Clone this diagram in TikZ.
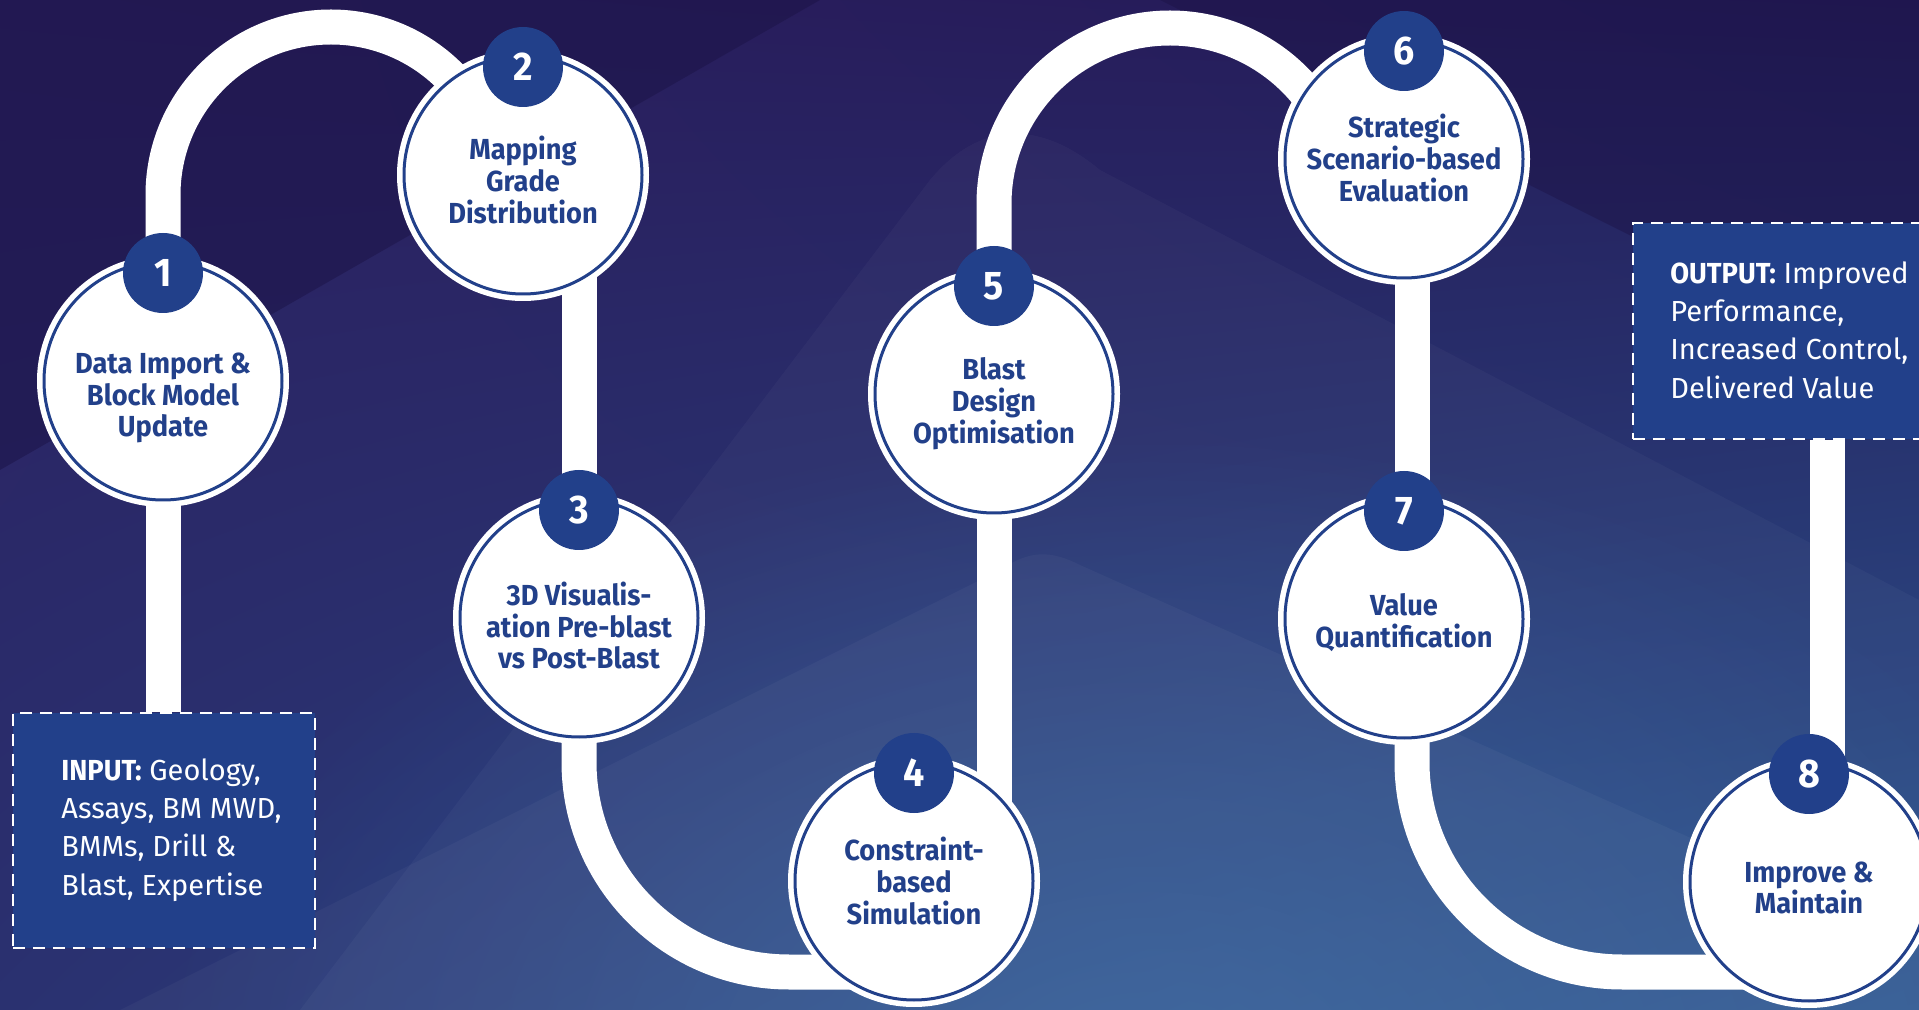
\documentclass[tikz,border=0pt]{standalone}
\usepackage{fontspec}
\setmainfont{Fira Sans}[BoldFeatures={FakeStretch=0.94}]
\usetikzlibrary{fadings,shadings}

\definecolor{navy}{HTML}{22408A}
\definecolor{bgUL}{HTML}{2B1F5F}
\definecolor{bgUR}{HTML}{231A57}
\definecolor{bgLL}{HTML}{2A3170}
\definecolor{bgLR}{HTML}{2D5690}
\definecolor{glow}{HTML}{3567A1}
\definecolor{shadow}{HTML}{1B1346}

\pgfdeclarelayer{background}
\pgfdeclarelayer{tracks}
\pgfsetlayers{background,tracks,main}

\tikzfading[name=glowfade, inner color=transparent!0, outer color=transparent!100]

\tikzset{
  stepdisk/.style={circle, fill=white, draw=navy, line width=1.5pt,
    minimum size=119pt, inner sep=0pt,
    preaction={draw=white, line width=7pt}},
  steptext/.style={text=navy, align=center, inner sep=0pt,
    font=\bfseries\fontsize{14.5}{15.9}\selectfont},
  badge/.style={circle, fill=navy, minimum size=40pt, inner sep=0pt,
    text=white, font=\bfseries\fontsize{20}{20}\selectfont},
  track/.style={draw=white, line width=17.5pt},
  iobox/.style={draw=white, fill=navy, line width=1.25pt,
    dash pattern=on 6pt off 4pt, inner sep=0pt},
  iotext/.style={text=white, align=left, anchor=west, inner sep=0pt,
    font=\fontsize{14.5}{19.2}\selectfont},
}

\begin{document}
\begin{tikzpicture}[x=0.5pt, y=-0.5pt]
\useasboundingbox (0,0) rectangle (1919,1010);
\clip (0,0) rectangle (1919,1010);

% ---------- backdrop ----------
\begin{pgfonlayer}{background}
  \shade[upper left=bgUL, upper right=bgUR, lower left=bgLL, lower right=bgLR]
    (0,0) rectangle (1919,1010);
  \fill[glow, path fading=glowfade, fill opacity=0.7]
    (1150,1080) ellipse (1000 and 650);
  % diagonal facets
  \fill[shadow, fill opacity=0.5] (0,0) -- (820,0) -- (0,470) -- cycle;
  \fill[shadow, fill opacity=0.45] (1160,0) -- (1919,0) -- (1919,380) -- cycle;
  \fill[white, fill opacity=0.03] (300,1010) -- (930,180)
    .. controls (980,120) and (1040,120) .. (1100,170) -- (1919,600) -- (1919,1010) -- cycle;
  \fill[white, fill opacity=0.035] (120,1010) -- (1000,570)
    .. controls (1030,550) and (1050,550) .. (1080,565) -- (1919,940) -- (1919,1010) -- cycle;
\end{pgfonlayer}

% ---------- input / output ----------
\node[iobox, minimum width=151pt, minimum height=117.5pt] (inbox) at (164,830.5) {};
\node[iotext] (intext) at (61,830) {\textbf{INPUT:} Geology,\\Assays, BM MWD,\\BMMs, Drill \&\\Blast, Expertise};

\node[iobox, minimum width=163.5pt, minimum height=108pt] (outbox) at (1796.5,331) {};
\node[iotext] (outtext) at (1670,330) {\textbf{OUTPUT:} Improved\\Performance,\\Increased Control,\\Delivered Value};

% ---------- steps ----------
\node[stepdisk] (c1) at (163,381) {};
\node[stepdisk] (c2) at (523,175) {};
\node[stepdisk] (c3) at (579,618) {};
\node[stepdisk] (c4) at (914,881) {};
\node[stepdisk] (c5) at (994,394) {};
\node[stepdisk] (c6) at (1404,159) {};
\node[stepdisk] (c7) at (1404,619) {};
\node[stepdisk] (c8) at (1809,882) {};

\foreach \n in {1,...,8}
  \node[badge] (b\n) at ([yshift=54pt]c\n.center) {\n};

\node[steptext] (t1) at ([yshift=-8.5pt]c1.center) {Data Import \&\\Block Model\\Update};
\node[steptext] (t2) at ([yshift=-2.5pt]c2.center) {Mapping\\Grade\\Distribution};
\node[steptext] (t3) at ([yshift=-3.75pt]c3.center) {3D Visualis-\\ation Pre-blast\\vs Post-Blast};
\node[steptext] (t4) at (c4.center) {Constraint-\\based\\Simulation};
\node[steptext] (t5) at ([yshift=-5pt]c5.center) {Blast\\Design\\Optimisation};
\node[steptext] (t6) at ([yshift=0.5pt]c6.center) {Strategic\\Scenario-based\\Evaluation};
\node[steptext] (t7) at ([yshift=-2pt]c7.center) {Value\\Quantification};
\node[steptext] (t8) at ([yshift=-3pt]c8.center) {Improve \&\\Maintain};

\coordinate (c6r) at ([xshift=4pt]c6.center);
\coordinate (c7r) at ([xshift=4pt]c7.center);
\coordinate (c8r) at ([xshift=9pt]c8.center);

% ---------- track ----------
\begin{pgfonlayer}{tracks}
  \draw[track] (c1.center |- inbox.north) -- (c1.center);
  \draw[track] (c1.center) -- (163,195) arc[start angle=180, end angle=340, radius=168];
  \draw[track] (c3.center |- c2.center) -- (c3.center);
  \draw[track] (c3.center) -- (579,762) arc[start angle=180, end angle=90, radius=210] -- ++(140,0);
  \draw[track] (c5.center |- c4.center) -- (c5.center);
  \draw[track] (c5.center) -- (994,204) arc[start angle=180, end angle=340, radius=176];
  \draw[track] (c6r) -- (c7r);
  \draw[track] (c7r) -- (1412,762) arc[start angle=180, end angle=90, radius=210] -- ++(190,0);
  \draw[track] (c8r) -- (c8r |- outbox.south);
\end{pgfonlayer}
\end{tikzpicture}
\end{document}
